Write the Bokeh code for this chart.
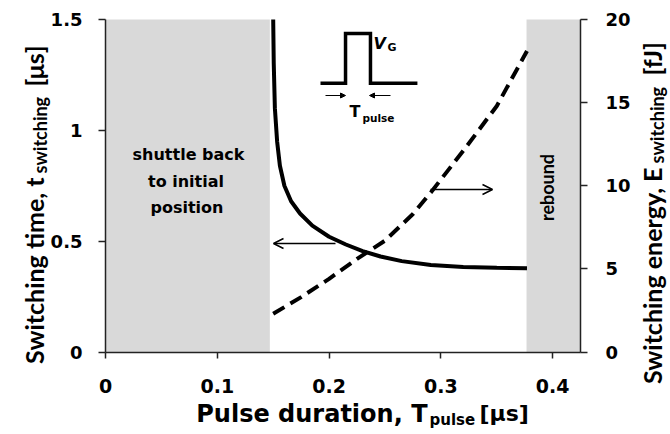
import math
from bokeh.plotting import figure
from bokeh.models import (Range1d, LinearAxis, FixedTicker, Label, Arrow,
                          OpenHead, NormalHead)
from bokeh.embed import file_html
from bokeh.resources import INLINE

# ---------------- data ----------------
t_pulse_solid = [0.1500, 0.1505, 0.1515, 0.1535, 0.156, 0.160, 0.166, 0.174,
                 0.185, 0.200, 0.215, 0.230, 0.246, 0.265, 0.291, 0.320,
                 0.350, 0.377]
t_switching = [1.50, 1.30, 1.10, 0.95, 0.84, 0.75, 0.68, 0.625, 0.57, 0.52,
               0.485, 0.455, 0.431, 0.410, 0.392, 0.384, 0.380, 0.378]

t_pulse_dash = [0.150, 0.175, 0.200, 0.225, 0.250, 0.275, 0.291, 0.320,
                0.350, 0.377]
e_switching = [2.3, 3.3, 4.4, 5.6, 6.7, 8.3, 9.6, 12.1, 14.8, 18.1]

shuttle_region = [0.0, 0.147]
rebound_region = [0.3766, 0.4253]

x_ticks = [0, 0.1, 0.2, 0.3, 0.4]
x_tick_labels = ["0", "0.1", "0.2", "0.3", "0.4"]
y_ticks = [0, 0.5, 1, 1.5]
y_tick_labels = ["0", "0.5", "1", "1.5"]
y2_ticks = [0, 5, 10, 15, 20]
y2_tick_labels = ["0", "5", "10", "15", "20"]

X_MAX = 0.4253
Y_MAX = 1.5
Y2_MAX = 20.0

# inset pulse schematic (in plot units)
pulse_x = [0.1923, 0.2147, 0.2147, 0.2370, 0.2370, 0.2790]
pulse_y = [1.2125, 1.2125, 1.4366, 1.4366, 1.2125, 1.2125]

HFONT = "DejaVu Sans"   # horizontal texts
VFONT = "Lato"          # vertical texts
W, H = 670, 434

# pixel -> data helpers (frame spans the whole canvas; the plotted
# region is 105..580.5 px wide and 19..351.5 px high)
def fx(px):
    return (px - 105) / 1118.0

def fy(py):
    return (351.5 - py) / 221.67

E_PER_T = Y2_MAX / Y_MAX

p = figure(width=W, height=H, output_backend="svg", toolbar_location=None,
           x_range=Range1d(fx(0), fx(W)), y_range=Range1d(fy(H), fy(0)),
           x_axis_location=None, y_axis_location=None,
           min_border_left=0, min_border_right=0, min_border_top=0,
           min_border_bottom=0)
p.extra_y_ranges = {"energy": Range1d(fy(H) * E_PER_T, fy(0) * E_PER_T)}
p.xgrid.visible = False
p.ygrid.visible = False
p.outline_line_color = None
p.background_fill_color = "white"
p.border_fill_color = "white"

# shaded regions
p.quad(left=[shuttle_region[0], rebound_region[0]],
       right=[shuttle_region[1], rebound_region[1]],
       bottom=[0, 0], top=[Y_MAX, Y_MAX], fill_color="#d9d9d9",
       line_color=None)

# curves
p.line(t_pulse_solid, t_switching, line_width=4, line_color="black")
p.line(t_pulse_dash, e_switching, y_range_name="energy", line_width=4,
       line_color="black", line_dash="13 7")

# pulse inset
p.line(pulse_x, pulse_y, line_width=3.5, line_color="black", line_join="miter")

# axes styling
def style_axis(ax, ticks, labels, tick_out, size):
    ax.ticker = FixedTicker(ticks=ticks)
    ax.major_label_overrides = {t: l for t, l in zip(ticks, labels)}
    ax.minor_tick_line_color = None
    ax.major_tick_in = 0
    ax.major_tick_out = tick_out
    ax.axis_line_width = 1.5
    ax.major_tick_line_width = 1.5
    ax.axis_line_color = "#222222"
    ax.major_tick_line_color = "#222222"
    ax.major_label_text_font = HFONT
    ax.major_label_text_font_style = "bold"
    ax.major_label_text_font_size = size
    ax.major_label_text_color = "black"

xax = LinearAxis(fixed_location=0, bounds=(0, X_MAX))
style_axis(xax, x_ticks, x_tick_labels, 6, "19px")
xax.major_label_standoff = 21
p.add_layout(xax, "below")

# vertical axes: lines and ticks from the axes; their tick labels are placed
# as labels at the tick values (see below)
yax = LinearAxis(fixed_location=0, bounds=(0, Y_MAX))
style_axis(yax, y_ticks, [""] * len(y_ticks), 7, "18px")
p.add_layout(yax, "left")

ax2 = LinearAxis(y_range_name="energy", fixed_location=X_MAX,
                 bounds=(0, Y2_MAX))
style_axis(ax2, y2_ticks, [""] * len(y2_ticks), 7, "18px")
p.add_layout(ax2, "right")

for t, l in zip(y_ticks, y_tick_labels):
    p.add_layout(Label(x=fx(82), y=t, text=l, text_font=HFONT,
                       text_font_style="bold", text_font_size="18px",
                       text_align="right", text_baseline="middle",
                       text_color="black"))
for t, l in zip(y2_ticks, y2_tick_labels):
    p.add_layout(Label(x=fx(605), y=t, y_range_name="energy", text=l,
                       text_font=HFONT, text_font_style="bold",
                       text_font_size="18px", text_align="left",
                       text_baseline="middle", text_color="black"))


def lab(text, px, py, size, angle=0.0, align="center", style="bold",
        font=HFONT):
    p.add_layout(Label(x=fx(px), y=fy(py), text=text, text_font=font,
                       text_font_style=style, text_font_size=size,
                       text_align=align, text_baseline="alphabetic",
                       angle=angle, text_color="black"))

R = math.pi / 2

# axis titles (composed so that subscripts are real text)
lab("Pulse duration, T", 427, 413, "24px", align="right")
lab("pulse", 429, 419, "15px", align="left")
lab("[\u03bcs]", 479, 413, "22px", align="left")

lab("Switching time, t", 33, 177, "25px", angle=R, font=VFONT, align="right")
lab("switching", 39, 173, "18px", angle=R, font=VFONT, align="left")
lab("[\u03bcs]", 33, 86, "25px", angle=R, font=VFONT, align="left")

lab("Switching energy, E", 651, 167, "25px", angle=R, font=VFONT,
    align="right")
lab("switching", 656, 163, "18px", angle=R, font=VFONT, align="left")
lab("[fJ]", 651, 75, "25px", angle=R, font=VFONT, align="left")

# region annotations
lab("shuttle back", 188, 154, "16px")
lab("to initial", 185.5, 181, "16px")
lab("position", 186.5, 207, "16px")
lab("rebound", 546, 187, "18px", angle=R, font=VFONT)

# inset labels
lab("V", 373, 43, "16px", align="left", style="bold italic")
lab("G", 387, 47, "11px", align="left")
lab("T", 349, 111, "16px", align="left")
lab("pulse", 362, 117, "10.5px", align="left")

# arrows
p.add_layout(Arrow(x_start=fx(335), y_start=fy(243), x_end=fx(273),
                   y_end=fy(243), line_width=1.5,
                   end=OpenHead(size=10, line_width=1.5)))
p.add_layout(Arrow(x_start=fx(430), y_start=fy(189), x_end=fx(492),
                   y_end=fy(189), line_width=1.5,
                   end=OpenHead(size=10, line_width=1.5)))
p.add_layout(Arrow(x_start=fx(325), y_start=fy(95), x_end=fx(345),
                   y_end=fy(95), line_width=1,
                   end=NormalHead(size=5, line_width=1, fill_color="black")))
p.add_layout(Arrow(x_start=fx(390), y_start=fy(95), x_end=fx(369),
                   y_end=fy(95), line_width=1,
                   end=NormalHead(size=5, line_width=1, fill_color="black")))

open("out.html", "w").write(file_html(p, INLINE))
